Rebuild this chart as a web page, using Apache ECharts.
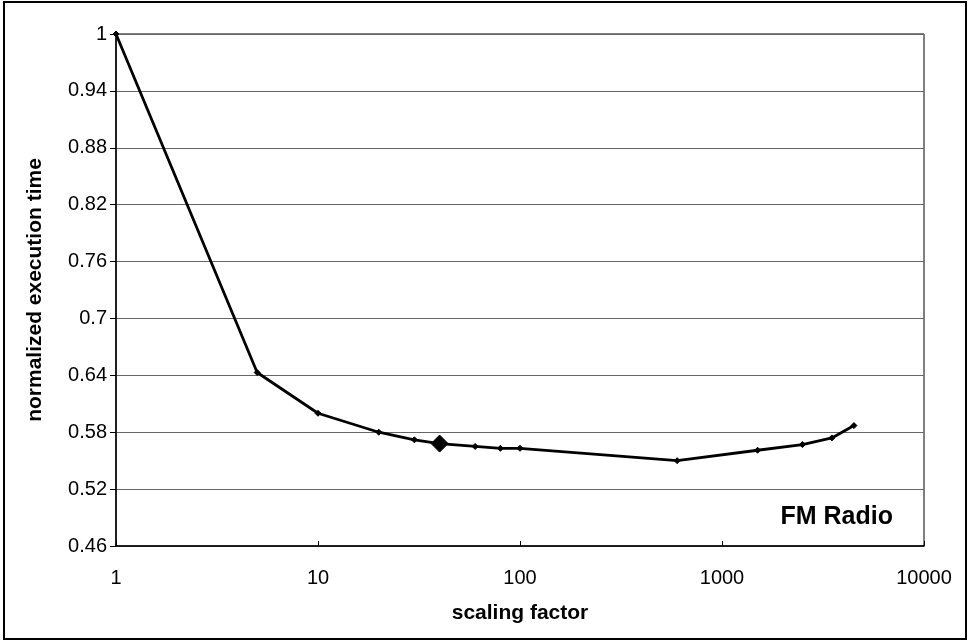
<!DOCTYPE html>
<html>
<head>
<meta charset="utf-8">
<script src="https://cdn.jsdelivr.net/npm/echarts@6/dist/echarts.min.js"></script>
<style>
html,body{margin:0;padding:0;background:#fff;}
#chart{width:969px;height:641px;}
</style>
</head>
<body>
<div id="chart"></div>
<script>
const scalingFactors = [1, 5, 10, 20, 30, 40, 60, 80, 100, 600, 1500, 2500, 3500, 4500];
const execTimes = [1.0, 0.643, 0.600, 0.580, 0.572, 0.568, 0.565, 0.563, 0.563, 0.550, 0.561, 0.567, 0.574, 0.587];
const highlightFactor = 40;
const seriesLabel = 'FM Radio';
const xAxisTitle = 'scaling factor';
const yAxisTitle = 'normalized execution time';

const FONT = '"Liberation Sans", Arial, sans-serif';
const chart = echarts.init(document.getElementById('chart'));
const pts = scalingFactors.map((x, i) => {
  const big = x === highlightFactor;
  return { value: [x, execTimes[i]], symbolSize: big ? 17 : 6 };
});

chart.setOption({
  animation: false,
  backgroundColor: '#fff',
  grid: { left: 116, right: 45, top: 34, bottom: 95, show: true, borderColor: '#000', borderWidth: 1 },
  graphic: [
    { type: 'rect', shape: { x: 4, y: 2, width: 962, height: 637 }, style: { fill: 'none', stroke: '#000', lineWidth: 2 }, silent: true },
    { type: 'text', right: 76, top: 505, style: { text: seriesLabel, font: 'bold 25px ' + FONT, fill: '#000' } }
  ],
  xAxis: {
    type: 'log', logBase: 10, min: 1, max: 10000,
    name: xAxisTitle, nameLocation: 'middle', nameGap: 57,
    nameTextStyle: { fontFamily: FONT, fontWeight: 'bold', fontSize: 21, color: '#000' },
    axisLine: { lineStyle: { color: '#000', width: 1.5 } },
    axisTick: { show: true, inside: true, length: 5, lineStyle: { color: '#000' } },
    minorTick: { show: false },
    splitLine: { show: false },
    axisLabel: { margin: 22, fontFamily: FONT, fontSize: 20, color: '#000', formatter: v => String(Math.round(v)) }
  },
  yAxis: {
    type: 'value', min: 0.46, max: 1, interval: 0.06,
    name: yAxisTitle, nameLocation: 'middle', nameGap: 70, nameRotate: 90,
    nameTextStyle: { fontFamily: FONT, fontWeight: 'bold', fontSize: 21, color: '#000' },
    axisLine: { show: true, lineStyle: { color: '#000', width: 1.5 } },
    axisTick: { show: true, length: 6, lineStyle: { color: '#000' } },
    splitLine: { show: true, lineStyle: { color: '#666', width: 1 } },
    axisLabel: {
      margin: 9, fontFamily: FONT, fontSize: 20, color: '#000',
      formatter: v => String(+v.toFixed(2))
    }
  },
  series: [{
    type: 'line',
    data: pts,
    symbol: 'diamond',
    showSymbol: true,
    lineStyle: { color: '#000', width: 2.8 },
    itemStyle: { color: '#000', borderColor: '#000' }
  }]
});
</script>
</body>
</html>
